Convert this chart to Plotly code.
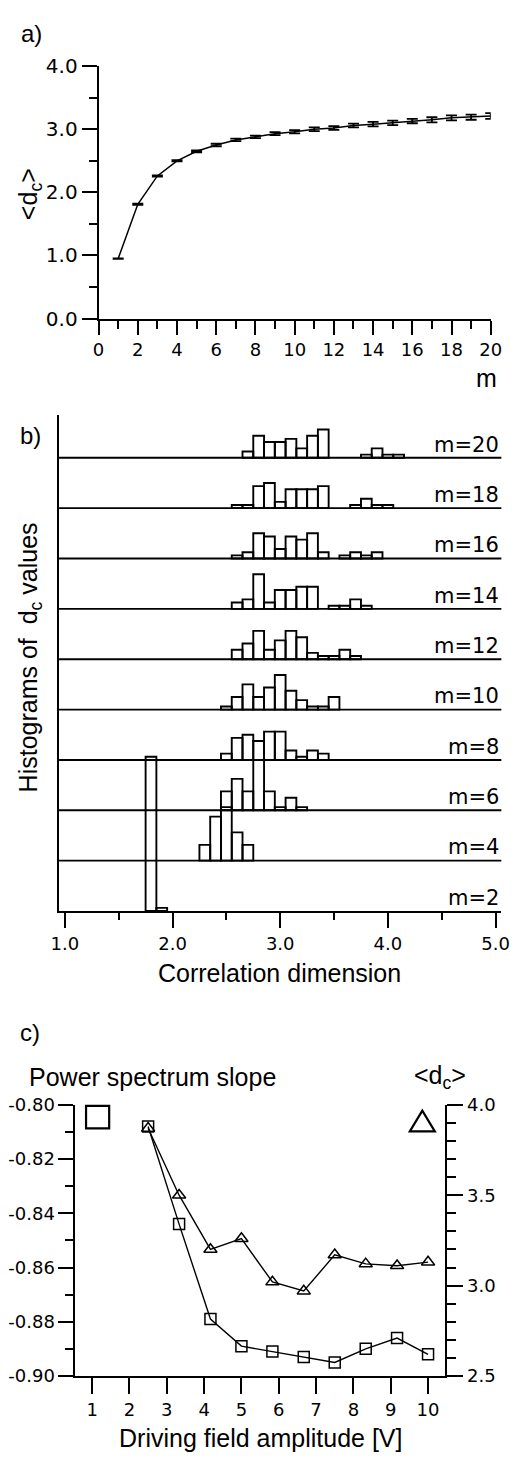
import plotly.graph_objects as go

W, H = 521, 1465

# ---------------- data ----------------
# panel a: mean correlation dimension vs embedding dimension m
m_values = list(range(1, 21))
dc_mean = [0.95, 1.81, 2.26, 2.50, 2.65, 2.75, 2.83, 2.88, 2.93, 2.96,
           3.00, 3.02, 3.06, 3.08, 3.10, 3.13, 3.15, 3.18, 3.19, 3.21]
dc_err = [0.005, 0.01, 0.01, 0.01, 0.015, 0.02, 0.02, 0.02, 0.025, 0.025,
          0.03, 0.03, 0.03, 0.035, 0.035, 0.035, 0.04, 0.04, 0.04, 0.045]
a_xticks = list(range(0, 21, 2))
a_xminor = list(range(1, 20, 2))
a_yticks = [0, 1, 2, 3, 4]
a_yminor = [0.5, 1.5, 2.5, 3.5]

# panel b: histograms of d_c values (bin width 0.1, counts), one per m
hist_m = [2, 4, 6, 8, 10, 12, 14, 16, 18, 20]
first_bin = [1.8, 2.3, 2.5, 2.5, 2.5, 2.6, 2.6, 2.6, 2.6, 2.7]
counts_m2 = [49, 1]
counts_m4 = [5, 14, 17, 9, 5]
counts_m6 = [6, 10, 6, 16, 6, 1, 4, 1]
counts_m8 = [2, 7, 8, 6, 9, 9, 3, 1, 3, 2]
counts_m10 = [1, 4, 8, 4, 7, 11, 6, 3, 1, 1, 4]
counts_m12 = [3, 5, 9, 3, 6, 9, 7, 2, 1, 1, 3, 1]
counts_m14 = [2, 3, 11, 2, 6, 6, 7, 7, 0, 1, 1, 3, 1]
counts_m16 = [1, 2, 8, 7, 3, 7, 6, 8, 2, 0, 1, 2, 1, 2]
counts_m18 = [1, 1, 7, 8, 2, 6, 6, 6, 7, 0, 0, 1, 3, 1, 1]
counts_m20 = [2, 7, 5, 5, 6, 3, 7, 9, 0, 0, 0, 1, 3, 1, 1]
all_counts = [counts_m2, counts_m4, counts_m6, counts_m8, counts_m10,
              counts_m12, counts_m14, counts_m16, counts_m18, counts_m20]
bin_width = 0.1
b_xticks = [1, 2, 3, 4, 5]
b_xticktext = ["1.0", "2.0", "3.0", "4.0", "5.0"]
b_xminor = [1.5, 2.5, 3.5, 4.5]

# panel c: power spectrum slope and <d_c> vs driving field amplitude
amplitude = [2.5, 3.33, 4.17, 5.0, 5.83, 6.67, 7.5, 8.33, 9.17, 10.0]
ps_slope = [-0.808, -0.844, -0.879, -0.889, -0.891, -0.893, -0.895, -0.890, -0.886, -0.892]
dc_amp = [3.87, 3.50, 3.20, 3.26, 3.02, 2.97, 3.17, 3.12, 3.11, 3.13]
c_xticks = list(range(1, 11))
c_yticks = [-0.90, -0.88, -0.86, -0.84, -0.82, -0.80]
c_yticktext = ["-0.90", "-0.88", "-0.86", "-0.84", "-0.82", "-0.80"]
c_yminor = [-0.89, -0.87, -0.85, -0.83, -0.81]
c_y2ticks = [2.5, 3.0, 3.5, 4.0]
c_y2minor = [2.6, 2.7, 2.8, 2.9, 3.1, 3.2, 3.3, 3.4, 3.6, 3.7, 3.8, 3.9]

# ---------------- layout helpers ----------------
def fx(px):
    return px / W

def fy(py):
    return 1 - py / H

TITLE_FONT = dict(family="Liberation Sans, Arial, sans-serif", size=25, color="black")
TICK_FONT = dict(family="DejaVu Sans, sans-serif", size=18, color="black")
ROW_STEP = 16  # vertical offset between histograms (in counts)
LW = 1.9

fig = go.Figure()

# panel a trace
fig.add_trace(go.Scatter(
    x=m_values, y=dc_mean, mode="lines",
    line=dict(color="black", width=1.5),
    error_y=dict(type="data", array=dc_err, visible=True, color="black",
                 thickness=1.8, width=5.5),
    xaxis="x", yaxis="y"))

# panel b bars
for i, (m, start, counts) in enumerate(zip(hist_m, first_bin, all_counts)):
    base = i * ROW_STEP
    xs, ys = [], []
    for j, c in enumerate(counts):
        if c > 0:
            xs.append(round(start + j * bin_width, 2))
            ys.append(c)
    fig.add_trace(go.Bar(
        x=xs, y=ys, base=base, width=bin_width,
        marker=dict(color="rgba(0,0,0,0)", line=dict(color="black", width=1.9)),
        xaxis="x2", yaxis="y2"))

# panel c traces
fig.add_trace(go.Scatter(
    x=amplitude, y=ps_slope, mode="lines+markers",
    line=dict(color="black", width=1.4),
    marker=dict(symbol="square-open", size=11, color="black", line=dict(width=1.5)),
    xaxis="x3", yaxis="y3"))
fig.add_trace(go.Scatter(
    x=amplitude, y=dc_amp, mode="lines+markers",
    line=dict(color="black", width=1.4),
    marker=dict(symbol="triangle-up-open", size=11.5, color="black", line=dict(width=1.5)),
    xaxis="x3", yaxis="y4"))

axis_common = dict(showgrid=False, zeroline=False, showline=True, linecolor="black",
                   linewidth=LW, ticks="outside", tickcolor="black", tickwidth=LW,
                   tickfont=TICK_FONT)

def minor(vals, length):
    return dict(tickvals=vals, ticks="outside", ticklen=length, tickwidth=LW, tickcolor="black")

shapes = []
for i in range(1, len(hist_m)):
    shapes.append(dict(type="line", xref="x2 domain", yref="y2", x0=0, x1=1,
                       y0=i * ROW_STEP, y1=i * ROW_STEP,
                       line=dict(color="black", width=LW)))
# legend glyphs of panel c
shapes.append(dict(type="rect", xref="paper", yref="paper",
                   x0=fx(81), x1=fx(105), y0=fy(1135), y1=fy(1112),
                   line=dict(color="black", width=2.2)))
shapes.append(dict(type="path", xref="paper", yref="paper",
                   path="M %f,%f L %f,%f L %f,%f Z" % (fx(417), fy(1138), fx(443), fy(1138), fx(430), fy(1117)),
                   line=dict(color="black", width=2.2)))

annotations = []
def ann(text, x, y, size=25, angle=0, xanchor="center"):
    f = dict(TITLE_FONT)
    f["size"] = size
    annotations.append(dict(text=text, x=fx(x), y=fy(y), xref="paper", yref="paper",
                            showarrow=False, textangle=angle, xanchor=xanchor,
                            yanchor="middle", font=f))

ann("a)", 24, 22, size=24)
ann("&lt;d<sub>c</sub>&gt;", 23, 185, angle=-90)
ann("m", 497, 372)
ann("b)", 23, 431, size=24)
ann("Histograms of\u00a0 d<sub>c</sub> values", 23, 656, angle=-90)
ann("Correlation dimension", 282, 977)
ann("c)", 23, 1038, size=24)
ann("Power spectrum slope", 20, 1083, xanchor="left")
ann("&lt;d<sub>c</sub>&gt;", 448, 1083)
ann("Driving field amplitude [V]", 262, 1450)

for i, m in enumerate(hist_m):
    annotations.append(dict(text="m=%d" % m, x=1, xref="x2 domain", y=i * ROW_STEP + 4.2,
                            yref="y2", xanchor="right", yanchor="middle", showarrow=False,
                            font=dict(family="DejaVu Sans, sans-serif", size=21, color="black")))

fig.update_layout(
    width=W, height=H, margin=dict(l=0, r=0, t=0, b=0, pad=0),
    paper_bgcolor="white", plot_bgcolor="rgba(0,0,0,0)",
    showlegend=False, barmode="overlay",
    xaxis=dict(axis_common, domain=[fx(94), fx(501)], range=[0, 20], anchor="y",
               tickvals=a_xticks, ticklen=14, minor=minor(a_xminor, 8)),
    yaxis=dict(axis_common, domain=[fy(311.7), fy(55)], range=[0, 4], anchor="x",
               tickvals=a_yticks, tickformat=".1f", ticklen=15,
               tickfont=dict(TICK_FONT, size=20), minor=minor(a_yminor, 8)),
    xaxis2=dict(axis_common, domain=[fx(53), fx(512)], range=[0.9463, 5.0537], anchor="y2",
                tickvals=b_xticks, ticktext=b_xticktext, ticklen=15, minor=minor(b_xminor, 7)),
    yaxis2=dict(axis_common, domain=[fy(914), fy(410)], range=[0, 157.5], anchor="x2",
                ticks="", showticklabels=False),
    xaxis3=dict(axis_common, domain=[fx(70), fx(454)], range=[0.553, 10.466], anchor="y3",
                tickvals=c_xticks, ticklen=16),
    yaxis3=dict(axis_common, domain=[fy(1386.7), fy(1111)], range=[-0.90, -0.80], anchor="x3",
                tickvals=c_yticks, ticktext=c_yticktext, ticklen=15, minor=minor(c_yminor, 8)),
    yaxis4=dict(axis_common, domain=[fy(1386.7), fy(1111)], range=[2.5, 4.0], anchor="x3",
                overlaying="y3", side="right",
                tickvals=c_y2ticks, tickformat=".1f", ticklen=16, minor=minor(c_y2minor, 9)),
    shapes=shapes,
    annotations=annotations,
)

fig.write_html("out.html")
